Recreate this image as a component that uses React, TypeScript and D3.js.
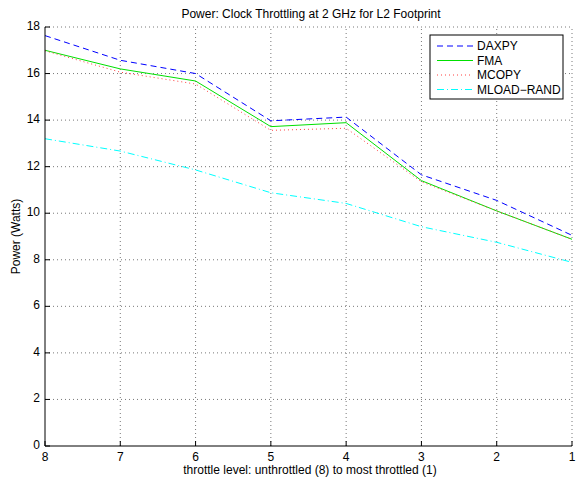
import React from "react";
import * as d3 from "d3";

// throttle levels, from unthrottled (8) to most throttled (1)
const levels = [8, 7, 6, 5, 4, 3, 2, 1];

// power in watts per benchmark
const daxpy = [17.63, 16.57, 16.0, 13.97, 14.13, 11.65, 10.55, 9.05];
const fma = [17.0, 16.2, 15.68, 13.72, 13.89, 11.4, 10.1, 8.88];
const mcopy = [16.98, 16.06, 15.55, 13.56, 13.65, 11.35, 10.1, 8.88];
const mloadRand = [13.2, 12.67, 11.86, 10.88, 10.42, 9.42, 8.75, 7.89];

const yTicks = [0, 2, 4, 6, 8, 10, 12, 14, 16, 18];

const series = [
  { name: "DAXPY", values: daxpy, color: "#0000ff", dash: "6,4" },
  { name: "FMA", values: fma, color: "#00e000", dash: "" },
  { name: "MCOPY", values: mcopy, color: "#ff4040", dash: "1,3" },
  { name: "MLOAD\u2212RAND", values: mloadRand, color: "#00ffff", dash: "7,3,1,3" },
];

const W = 576;
const H = 483;
const left = 45;
const right = 572;
const top = 27;
const bottom = 446;
const font = "Liberation Sans, Arial, Helvetica, sans-serif";

export default function App() {
  const x = d3.scaleLinear().domain([8, 1]).range([left, right]);
  const y = d3.scaleLinear().domain([0, 18]).range([bottom, top]);

  const line = (vals: number[]) =>
    d3
      .line<number>()
      .x((_, i) => x(levels[i]))
      .y((v) => y(v))(vals) || "";

  const legX = 430;
  const legY = 35;
  const legW = 133;
  const legH = 64;

  return (
    <svg
      width={W}
      height={H}
      style={{ position: "absolute", left: 0, top: 0, background: "#fff" }}
      fontFamily={font}
    >
      <rect x={0} y={0} width={W} height={H} fill="#fff" />

      {/* grid */}
      <g stroke="#555" strokeWidth={0.8} strokeDasharray="1,3">
        {levels.slice(1).map((l) => (
          <line key={"gx" + l} x1={x(l)} x2={x(l)} y1={bottom} y2={top} />
        ))}
        {yTicks.slice(1).map((t) => (
          <line key={"gy" + t} x1={left} x2={right} y1={y(t)} y2={y(t)} />
        ))}
      </g>

      {/* series */}
      {series.map((s) => (
        <path
          key={s.name}
          d={line(s.values)}
          fill="none"
          stroke={s.color}
          strokeWidth={1}
          strokeDasharray={s.dash || undefined}
        />
      ))}

      {/* axes */}
      <g stroke="#000" strokeWidth={1}>
        <line x1={left} x2={left} y1={top} y2={bottom} />
        <line x1={left} x2={right} y1={bottom} y2={bottom} />
        {yTicks.map((t) => (
          <line key={"ty" + t} x1={left} x2={left + 5} y1={y(t)} y2={y(t)} />
        ))}
        {levels.map((l) => (
          <line key={"tx" + l} x1={x(l)} x2={x(l)} y1={bottom} y2={bottom - 5} />
        ))}
      </g>

      <g fontSize={12} fill="#000">
        {yTicks.map((t) => (
          <text key={"ly" + t} x={left - 5} y={y(t) - 1} textAnchor="end" dominantBaseline="central">
            {t}
          </text>
        ))}
        {levels.map((l) => (
          <text key={"lx" + l} x={x(l)} y={bottom + 11} textAnchor="middle" dominantBaseline="central">
            {l}
          </text>
        ))}
        <text x={311} y={14} textAnchor="middle" dominantBaseline="central">
          Power: Clock Throttling at 2 GHz for L2 Footprint
        </text>
        <text x={310} y={470} textAnchor="middle" dominantBaseline="central">
          throttle level: unthrottled (8) to most throttled (1)
        </text>
        <text
          transform={`translate(16,${(top + bottom) / 2}) rotate(-90)`}
          textAnchor="middle"
          dominantBaseline="central"
        >
          Power (Watts)
        </text>
      </g>

      {/* legend */}
      <g>
        <rect x={legX} y={legY} width={legW} height={legH} fill="#fff" stroke="#000" strokeWidth={1} />
        {series.map((s, i) => {
          const cy = legY + 11 + i * 14.5;
          return (
            <g key={"leg" + s.name}>
              <line
                x1={legX + 7}
                x2={legX + 43}
                y1={cy}
                y2={cy}
                stroke={s.color}
                strokeWidth={1}
                strokeDasharray={s.dash || undefined}
              />
              <text x={legX + 47} y={cy} fontSize={12} dominantBaseline="central">
                {s.name}
              </text>
            </g>
          );
        })}
      </g>
    </svg>
  );
}
